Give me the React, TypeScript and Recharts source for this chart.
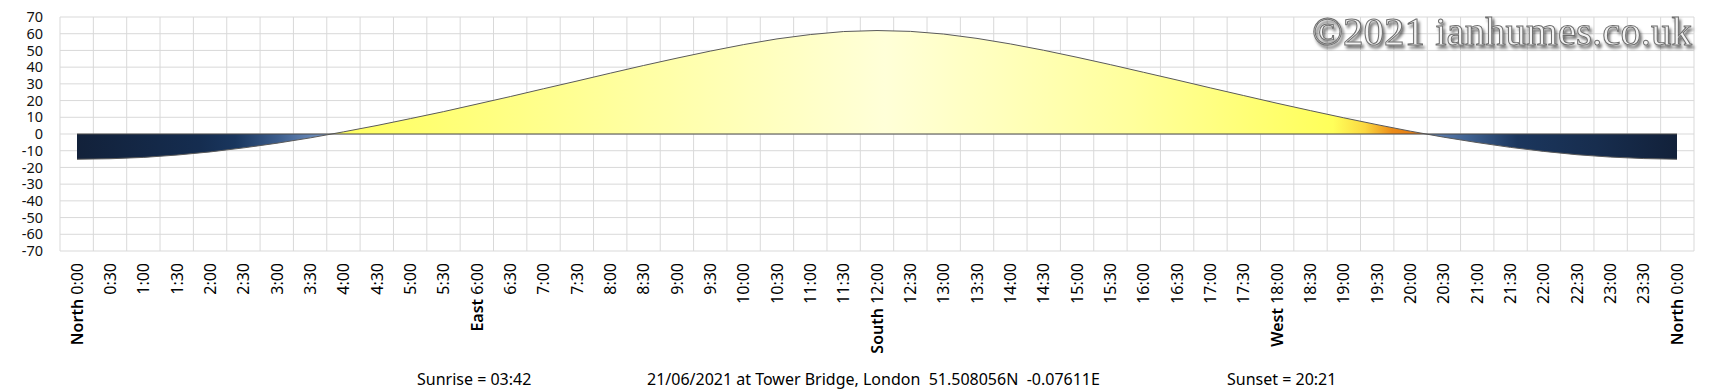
import React from 'react';
import { AreaChart, Area, XAxis, YAxis, CartesianGrid, ReferenceLine } from 'recharts';

// half-hour slots across the day (unique keys) and what the axis prints for them
const times = [
  '0:00', '0:30', '1:00', '1:30', '2:00', '2:30', '3:00', '3:30', '4:00', '4:30', '5:00', '5:30',
  '6:00', '6:30', '7:00', '7:30', '8:00', '8:30', '9:00', '9:30', '10:00', '10:30', '11:00', '11:30',
  '12:00', '12:30', '13:00', '13:30', '14:00', '14:30', '15:00', '15:30', '16:00', '16:30', '17:00', '17:30',
  '18:00', '18:30', '19:00', '19:30', '20:00', '20:30', '21:00', '21:30', '22:00', '22:30', '23:00', '23:30',
  '24:00',
];

const tickLabels = [
  'North 0:00', '0:30', '1:00', '1:30', '2:00', '2:30', '3:00', '3:30', '4:00', '4:30', '5:00', '5:30',
  'East 6:00', '6:30', '7:00', '7:30', '8:00', '8:30', '9:00', '9:30', '10:00', '10:30', '11:00', '11:30',
  'South 12:00', '12:30', '13:00', '13:30', '14:00', '14:30', '15:00', '15:30', '16:00', '16:30', '17:00', '17:30',
  'West 18:00', '18:30', '19:00', '19:30', '20:00', '20:30', '21:00', '21:30', '22:00', '22:30', '23:00', '23:30',
  'North 0:00',
];

// sun elevation in degrees
const elevation = [
  -15.1, -14.8, -14.0, -12.6, -10.7, -8.3, -5.5, -2.3, 1.3, 5.1, 9.2, 13.4,
  17.9, 22.4, 27.1, 31.7, 36.4, 41.0, 45.4, 49.6, 53.5, 56.9, 59.5, 61.3,
  61.9, 61.4, 59.8, 57.2, 53.9, 50.1, 45.9, 41.5, 36.9, 32.3, 27.6, 23.0,
  18.4, 14.0, 9.7, 5.6, 1.7, -1.9, -5.1, -8.0, -10.4, -12.4, -13.8, -14.7,
  -15.1,
];

const yTicks = [-70, -60, -50, -40, -30, -20, -10, 0, 10, 20, 30, 40, 50, 60, 70];

const sunrise = 'Sunrise = 03:42';
const sunset = 'Sunset = 20:21';
const place = '21/06/2021 at Tower Bridge, London  51.508056N  -0.07611E';
const watermark = '\u00a92021 ianhumes.co.uk';

const data = times.map((t, i) => ({ time: t, elevation: elevation[i] }));

const font = "'Noto Sans', 'DejaVu Sans', sans-serif";

const TimeTick = (props: any) => {
  const { x, y, payload, index } = props;
  const label = tickLabels[payload?.index ?? index] ?? '';
  const sp = label.indexOf(' ');
  return (
    <g transform={`translate(${x},${y})`}>
      <text
        transform="rotate(-90)"
        x={-12}
        y={0}
        dy="0.36em"
        textAnchor="end"
        fontFamily={font}
        fontSize={16}
        fill="#000"
      >
        {sp > 0 ? (
          <>
            <tspan fontWeight={600}>{label.slice(0, sp)}</tspan>
            <tspan>{label.slice(sp)}</tspan>
          </>
        ) : (
          label
        )}
      </text>
    </g>
  );
};

export default function App() {
  return (
    <div style={{ position: 'absolute', left: 0, top: 0, width: 1710, height: 389, background: '#fff' }}>
      <AreaChart
        width={1710}
        height={389}
        data={data}
        margin={{ top: 17, right: 16, left: 0, bottom: 18 }}
      >
        <defs>
          <linearGradient id="sunFill" x1="0" y1="0" x2="1" y2="0">
            <stop offset="0" stopColor="#12213a" />
            <stop offset="0.077" stopColor="#152d50" />
            <stop offset="0.099" stopColor="#19365e" />
            <stop offset="0.125" stopColor="#3b5c8b" />
            <stop offset="0.156" stopColor="#7898c8" />
            <stop offset="0.1565" stopColor="#ffff5e" />
            <stop offset="0.22" stopColor="#ffff72" />
            <stop offset="0.36" stopColor="#ffffa6" />
            <stop offset="0.505" stopColor="#ffffd8" />
            <stop offset="0.66" stopColor="#ffff9c" />
            <stop offset="0.785" stopColor="#ffff5a" />
            <stop offset="0.805" stopColor="#fbd840" />
            <stop offset="0.822" stopColor="#ec8c18" />
            <stop offset="0.843" stopColor="#e07412" />
            <stop offset="0.8435" stopColor="#6283b5" />
            <stop offset="0.87" stopColor="#3f6190" />
            <stop offset="0.9" stopColor="#1b365d" />
            <stop offset="0.95" stopColor="#172d4e" />
            <stop offset="1" stopColor="#12213a" />
          </linearGradient>
        </defs>
        <CartesianGrid
          stroke="#d9d9d9"
          strokeWidth={1}
          verticalCoordinatesGenerator={({ offset }: any) =>
            Array.from({ length: times.length + 1 }, (_, k) => offset.left + (offset.width * k) / times.length)
          }
        />
        <XAxis
          dataKey="time"
          interval={0}
          axisLine={false}
          tickLine={false}
          tickSize={0}
          tickMargin={0}
          height={120}
          padding={{ left: 17, right: 17 }}
          tick={<TimeTick />}
        />
        <YAxis
          type="number"
          domain={[-70, 70]}
          ticks={yTicks}
          interval={0}
          width={60}
          axisLine={false}
          tickLine={false}
          tickMargin={11}
          tick={{ fontFamily: font, fontSize: 14.5, fill: '#111' }}
        />
        <Area
          type="linear"
          dataKey="elevation"
          stroke="#5a5a5a"
          strokeWidth={1}
          fill="url(#sunFill)"
          fillOpacity={1}
          isAnimationActive={false}
          dot={false}
          activeDot={false}
        />
        <ReferenceLine
          segment={[{ x: times[0], y: 0 }, { x: times[times.length - 1], y: 0 }]}
          stroke="#4a4a4a"
          strokeWidth={1.2}
        />
      </AreaChart>
      <svg
        width={1710}
        height={389}
        style={{ position: 'absolute', left: 0, top: 0, pointerEvents: 'none' }}
      >
        <defs>
          <filter id="emboss" x="-5%" y="-30%" width="110%" height="170%">
            <feDropShadow dx="2" dy="3" stdDeviation="1.6" floodColor="#000" floodOpacity="0.55" />
          </filter>
        </defs>
        <text
          x={1312}
          y={45}
          textLength={380}
          lengthAdjust="spacingAndGlyphs"
          fontFamily="'Liberation Serif', 'DejaVu Serif', serif"
          fontSize={40}
          fill="#f3f3f3"
          stroke="#6e6e6e"
          strokeWidth={1}
          filter="url(#emboss)"
        >
          {watermark}
        </text>
        <g fontFamily={font} fontSize={16} fill="#000">
          <text x={417} y={385}>{sunrise}</text>
          <text x={647} y={385} style={{ whiteSpace: 'pre' }}>{place}</text>
          <text x={1227} y={385}>{sunset}</text>
        </g>
      </svg>
    </div>
  );
}
